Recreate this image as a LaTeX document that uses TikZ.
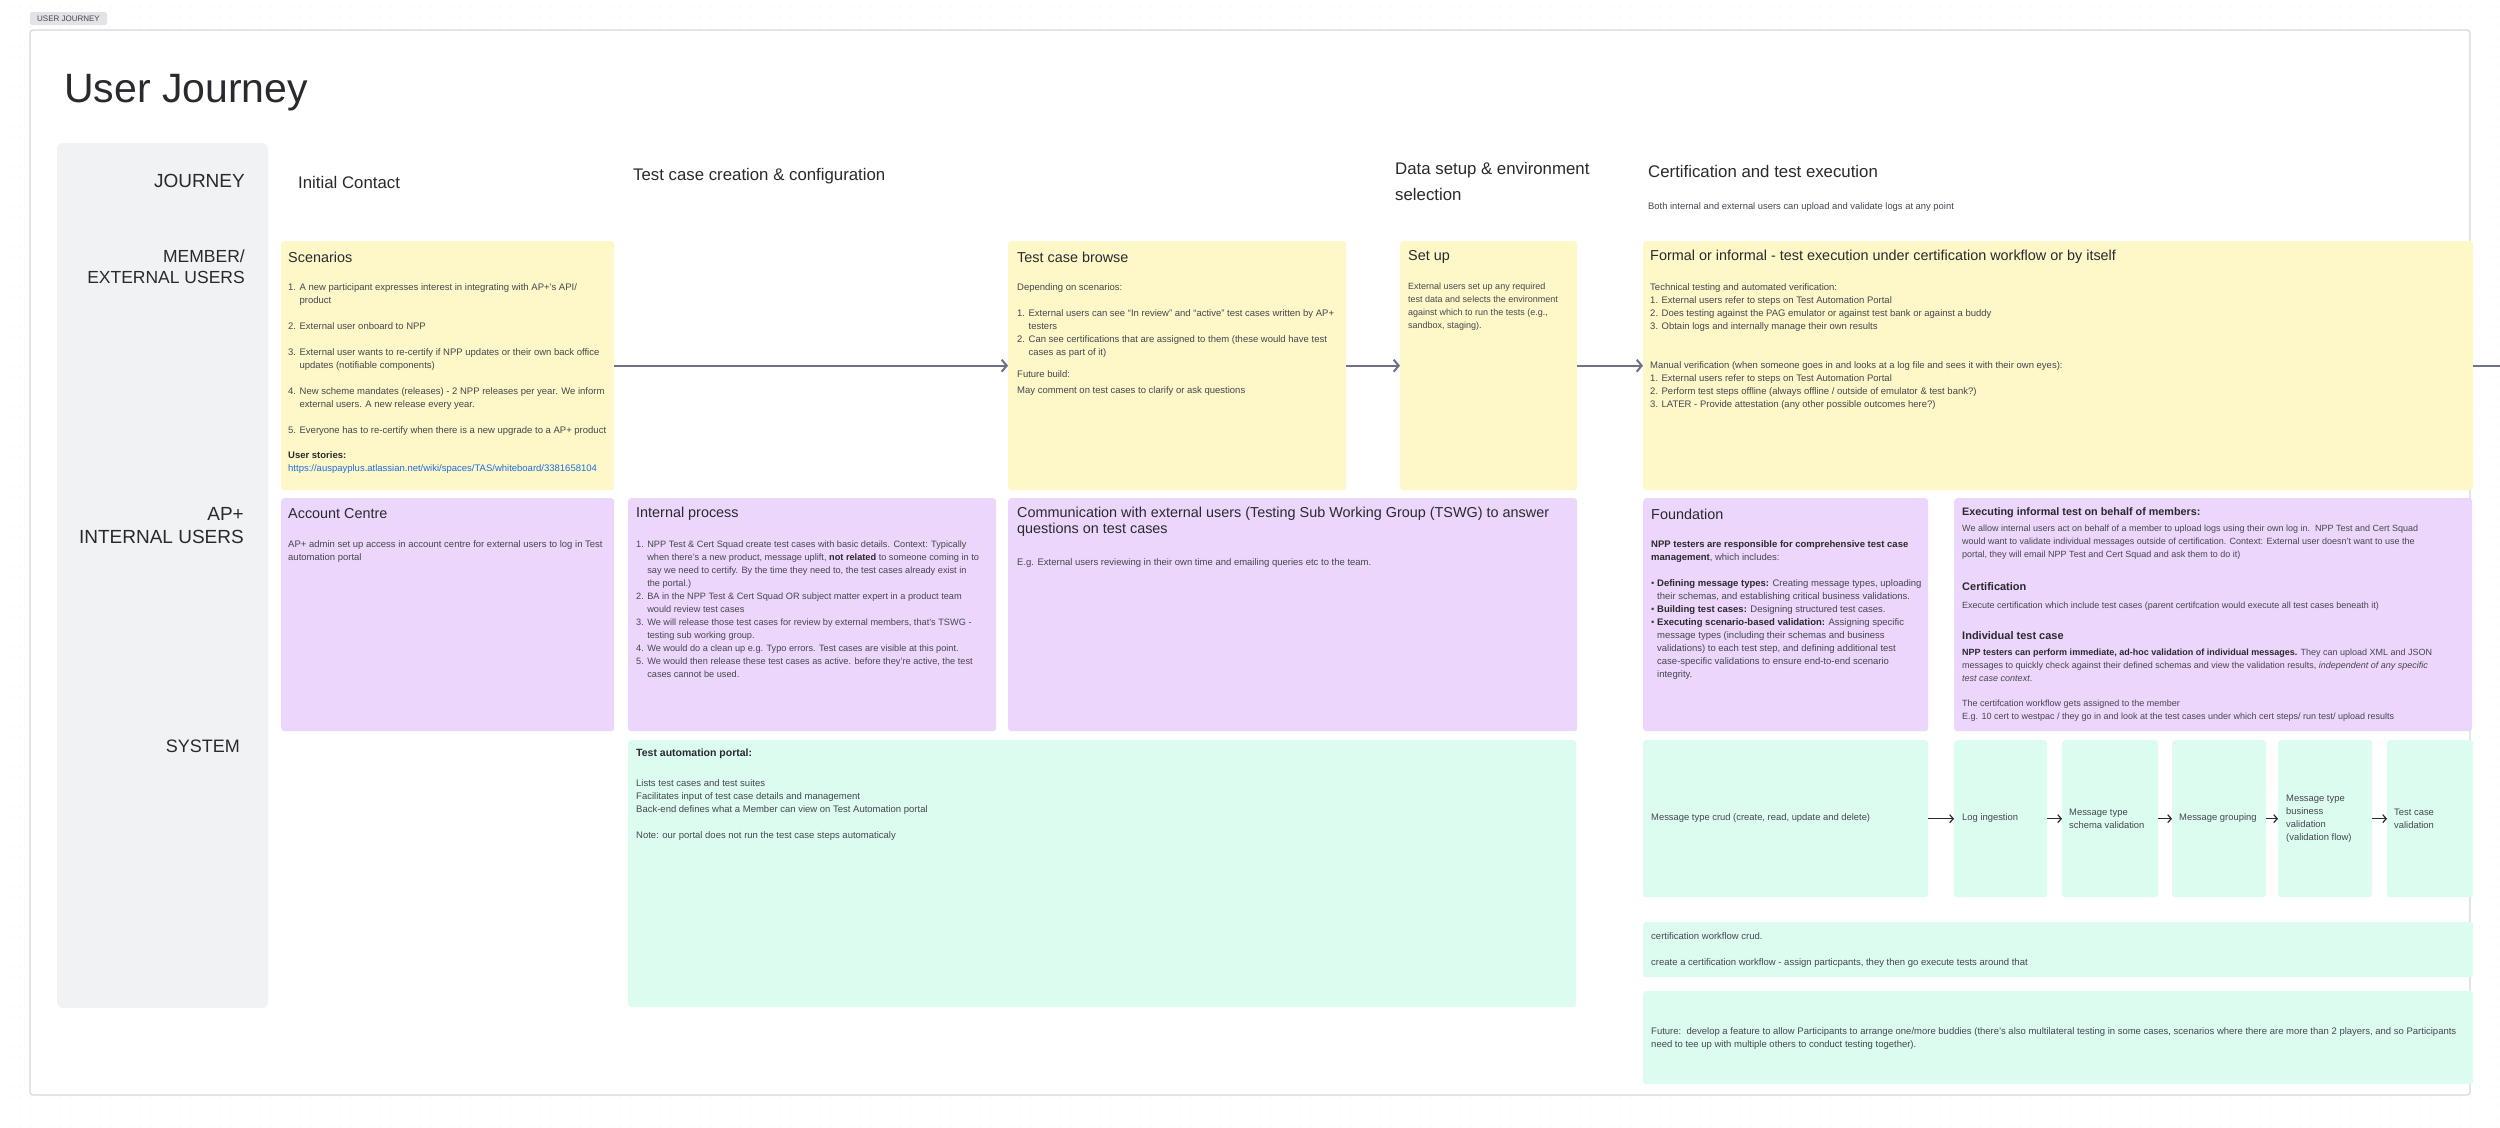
\documentclass[tikz,border=0pt]{standalone}
\usepackage{fontspec}
\setmainfont{Liberation Sans}
\usetikzlibrary{arrows.meta, patterns.meta}

\definecolor{cardyellow}{HTML}{FEF7C8}
\definecolor{cardpurple}{HTML}{EDD6FB}
\definecolor{cardgreen}{HTML}{DCFCEF}
\definecolor{panelgray}{HTML}{F1F2F4}
\definecolor{framegray}{HTML}{D6D7DB}
\definecolor{dotgray}{HTML}{E6E7EA}
\definecolor{taggray}{HTML}{E2E3E7}
\definecolor{inkdark}{HTML}{292A2E}
\definecolor{inkbody}{HTML}{45474F}
\definecolor{linkblue}{HTML}{1D6FE0}
\definecolor{arrowgray}{HTML}{6E7185}

\newcommand{\itemind}{\hphantom{1. }}

\tikzset{
  card/.style={anchor=north west, inner sep=0pt, rounded corners=3pt},
  ycard/.style={card, fill=cardyellow},
  pcard/.style={card, fill=cardpurple},
  gcard/.style={card, fill=cardgreen},
  cardtitle/.style={anchor=west, inner sep=0pt, align=left, text=inkdark, font=\fontsize{14.4}{16}\selectfont},
  body/.style={anchor=north west, inner sep=0pt, align=left, text=inkbody, font=\fontsize{9.5}{13}\selectfont, execute at begin node=\strut},
  smallbody/.style={body, font=\fontsize{9}{13}\selectfont},
  sysbody/.style={anchor=west, inner sep=0pt, align=left, text=inkbody, font=\fontsize{9.4}{13}\selectfont},
  subhead/.style={anchor=west, inner sep=0pt, text=inkdark, font=\fontsize{11}{13}\selectfont\bfseries},
  rowlabel/.style={anchor=east, inner sep=0pt, align=right, text=inkdark, font=\fontsize{18}{21}\selectfont},
  phase/.style={anchor=west, inner sep=0pt, align=left, text=inkdark, font=\fontsize{16.8}{26}\selectfont},
  flow/.style={draw=arrowgray, line width=2pt, -{Straight Barb[length=5pt,width=12pt]}},
  sysflow/.style={draw=inkdark, line width=1.2pt, -{Straight Barb[length=3.5pt,width=8pt]}}
}

\begin{document}
\begin{tikzpicture}[x=1pt, y=-1pt]
\useasboundingbox (0,0) rectangle (2500,1127);

% canvas, frame, tag and title
\fill[pattern={Dots[distance=10pt, radius=0.55pt]}, pattern color=dotgray] (0,0) rectangle (2500,1127);
\draw[framegray, line width=1.2pt, fill=white, rounded corners=3pt] (30,30) rectangle (2470,1095);
\node[fill=taggray, rounded corners=2pt, inner sep=0pt, minimum width=77, minimum height=13,
      text=inkbody, font=\fontsize{8}{8}\selectfont] (tag) at (68.5,18.5) {USER JOURNEY};
\node[anchor=base west, inner sep=0pt, text=inkdark, font=\fontsize{41}{41}\selectfont] (title) at (64,102) {User Journey};

% row labels
\fill[panelgray, rounded corners=6pt] (57,143) rectangle (268,1008);
\node[rowlabel, font=\fontsize{19}{21}\selectfont] (rjourney) at (245,181) {JOURNEY};
\node[rowlabel, font=\fontsize{17.5}{21}\selectfont] (rmember) at (245,267) {MEMBER/\\EXTERNAL USERS};
\node[rowlabel, font=\fontsize{19}{23}\selectfont] (rinternal) at (244,526) {AP+\\INTERNAL USERS};
\node[rowlabel] (rsystem) at (240,746) {SYSTEM};

% phases
\node[phase] (pcontact) at (298,182) {Initial Contact};
\node[phase] (pcreate) at (633,176) {Test case creation \& configuration};
\node[phase] (pdata) at (1395,181) {Data setup \& environment\\selection};
\node[phase] (pcert) at (1648,171) {Certification and test execution};
\node[sysbody] (pnote) at (1648,207) {Both internal and external users can upload and validate logs at any point};

% member / external users
\node[ycard, minimum width=333, minimum height=249] (scen) at (281,241) {};
\node[ycard, minimum width=338, minimum height=249] (browse) at (1008,241) {};
\node[ycard, minimum width=177, minimum height=249] (setup) at (1400,241) {};
\node[ycard, minimum width=830, minimum height=249] (formal) at (1643,241) {};

\node[cardtitle] (scenT) at (288,257) {Scenarios};
\node[body] (scenB) at (288,283) {1. A new participant expresses interest in integrating with AP+'s API/\\
\itemind product\\[13pt]
2. External user onboard to NPP\\[13pt]
3. External user wants to re-certify if NPP updates or their own back office\\
\itemind updates (notifiable components)\\[13pt]
4. New scheme mandates (releases) - 2 NPP releases per year. We inform\\
\itemind external users. A new release every year.\\[13pt]
5. Everyone has to re-certify when there is a new upgrade to a AP+ product\\[12pt]
\textcolor{inkdark}{\bfseries User stories:}\\
\textcolor{linkblue}{https://auspayplus.atlassian.net/wiki/spaces/TAS/whiteboard/3381658104}};

\node[cardtitle] (browseT) at (1017,257) {Test case browse};
\node[body] (browseB) at (1017,283) {Depending on scenarios:\\[13pt]
1. External users can see ``In review'' and ``active'' test cases written by AP+\\
\itemind testers\\
2. Can see certifications that are assigned to them (these would have test\\
\itemind cases as part of it)\\[9pt]
Future build:\\[3pt]
May comment on test cases to clarify or ask questions};

\node[cardtitle] (setupT) at (1408,257) {Set up};
\node[smallbody] (setupB) at (1408,283) {External users set up any required\\
test data and selects the environment\\
against which to run the tests (e.g.,\\
sandbox, staging).};

\node[cardtitle] (formalT) at (1650,257) {Formal or informal - test execution under certification workflow or by itself};
\node[body] (formalB) at (1650,283) {Technical testing and automated verification:\\
1. External users refer to steps on Test Automation Portal\\
2. Does testing against the PAG emulator or against test bank or against a buddy\\
3. Obtain logs and internally manage their own results\\[26pt]
Manual verification (when someone goes in and looks at a log file and sees it with their own eyes):\\
1. External users refer to steps on Test Automation Portal\\
2. Perform test steps offline (always offline / outside of emulator \& test bank?)\\
3. LATER - Provide attestation (any other possible outcomes here?)};

% AP+ internal users
\node[pcard, minimum width=333, minimum height=233] (account) at (281,498) {};
\node[pcard, minimum width=368, minimum height=233] (internal) at (628,498) {};
\node[pcard, minimum width=569, minimum height=233] (comm) at (1008,498) {};
\node[pcard, minimum width=285, minimum height=233] (found) at (1643,498) {};
\node[pcard, minimum width=518, minimum height=233] (informal) at (1954,498) {};

\node[cardtitle] (accountT) at (288,514) {Account Centre};
\node[body] (accountB) at (288,540.5) {AP+ admin set up access in account centre for external users to log in Test\\
automation portal};

\node[cardtitle] (internalT) at (636,514) {Internal process};
\node[body, font=\fontsize{9.2}{13}\selectfont] (internalB) at (636,540.5) {1. NPP Test \& Cert Squad create test cases with basic details. Context: Typically\\
\itemind when there's a new product, message uplift, \textcolor{inkdark}{\bfseries not related} to someone coming in to\\
\itemind say we need to certify. By the time they need to, the test cases already exist in\\
\itemind the portal.)\\
2. BA in the NPP Test \& Cert Squad OR subject matter expert in a product team\\
\itemind would review test cases\\
3. We will release those test cases for review by external members, that's TSWG -\\
\itemind testing sub working group.\\
4. We would do a clean up e.g. Typo errors. Test cases are visible at this point.\\
5. We would then release these test cases as active. before they're active, the test\\
\itemind cases cannot be used.};

\node[cardtitle] (commT) at (1017,522) {Communication with external users (Testing Sub Working Group (TSWG) to answer\\questions on test cases};
\node[body] (commB) at (1017,556.5) {E.g. External users reviewing in their own time and emailing queries etc to the team.};

\node[cardtitle] (foundT) at (1651,514) {Foundation};
\node[body] (foundB) at (1651,540.5) {\textcolor{inkdark}{\bfseries NPP testers are responsible for comprehensive test case}\\
\textcolor{inkdark}{\bfseries management}, which includes:\\[13pt]
\textbullet\ \textcolor{inkdark}{\bfseries Defining message types:} Creating message types, uploading\\
\hphantom{\textbullet\ }their schemas, and establishing critical business validations.\\
\textbullet\ \textcolor{inkdark}{\bfseries Building test cases:} Designing structured test cases.\\
\textbullet\ \textcolor{inkdark}{\bfseries Executing scenario-based validation:} Assigning specific\\
\hphantom{\textbullet\ }message types (including their schemas and business\\
\hphantom{\textbullet\ }validations) to each test step, and defining additional test\\
\hphantom{\textbullet\ }case-specific validations to ensure end-to-end scenario\\
\hphantom{\textbullet\ }integrity.};

\node[subhead, font=\fontsize{10.8}{13}\selectfont\bfseries] (informalT) at (1962,513) {Executing informal test on behalf of members:};
\node[smallbody] (informalB) at (1962,524.5) {We allow internal users act on behalf of a member to upload logs using their own log in.\ \ NPP Test and Cert Squad\\
would want to validate individual messages outside of certification. Context: External user doesn't want to use the\\
portal, they will email NPP Test and Cert Squad and ask them to do it)};
\node[subhead] (certT) at (1962,587) {Certification};
\node[smallbody] (certB) at (1962,599.5) {Execute certification which include test cases (parent certifcation would execute all test cases beneath it)};
\node[subhead] (singleT) at (1962,636) {Individual test case};
\node[smallbody] (singleB) at (1962,648.5) {\textcolor{inkdark}{\bfseries NPP testers can perform immediate, ad-hoc validation of individual messages.} They can upload XML and JSON\\
messages to quickly check against their defined schemas and view the validation results, \textit{independent of any specific}\\
\textit{test case context}.\\[12pt]
The certifcation workflow gets assigned to the member\\
E.g. 10 cert to westpac / they go in and look at the test cases under which cert steps/ run test/ upload results};

% system
\node[gcard, minimum width=948, minimum height=267] (portal) at (628,740) {};
\node[gcard, minimum width=285, minimum height=157] (crud) at (1643,740) {};
\node[gcard, minimum width=93, minimum height=157] (logi) at (1954,740) {};
\node[gcard, minimum width=96, minimum height=157] (schema) at (2062,740) {};
\node[gcard, minimum width=94, minimum height=157] (group) at (2172,740) {};
\node[gcard, minimum width=94, minimum height=157] (busval) at (2278,740) {};
\node[gcard, minimum width=86, minimum height=157] (tcval) at (2387,740) {};
\node[gcard, minimum width=830, minimum height=55] (certwf) at (1643,922) {};
\node[gcard, minimum width=830, minimum height=93] (future) at (1643,991) {};

\node[subhead, font=\fontsize{10.5}{13}\selectfont\bfseries] (portalT) at (636,754) {Test automation portal:};
\node[body] (portalB) at (636,779.5) {Lists test cases and test suites\\
Facilitates input of test case details and management\\
Back-end defines what a Member can view on Test Automation portal\\[13pt]
Note: our portal does not run the test case steps automaticaly};

\node[sysbody] (crudT) at (1651,818) {Message type crud (create, read, update and delete)};
\node[sysbody] (logiT) at (1962,818) {Log ingestion};
\node[sysbody] (schemaT) at (2069,818.5) {Message type\\schema validation};
\node[sysbody] (groupT) at (2179,818) {Message grouping};
\node[sysbody] (busvalT) at (2286,818.5) {Message type\\business\\validation\\(validation flow)};
\node[sysbody] (tcvalT) at (2394,818.5) {Test case\\validation};

\node[body] (certwfB) at (1651,932.5) {certification workflow crud.\\[13pt]
create a certification workflow - assign particpants, they then go execute tests around that};
\node[body] (futureB) at (1651,1027.5) {Future:\ \ develop a feature to allow Participants to arrange one/more buddies (there's also multilateral testing in some cases, scenarios where there are more than 2 players, and so Participants\\
need to tee up with multiple others to conduct testing together).};

% connectors
\coordinate (offright) at (2500,367);
\draw[flow] (scen.east) -- (browse.west);
\draw[flow] (browse.east) -- (setup.west);
\draw[flow] (setup.east) -- (formal.west);
\draw[arrowgray, line width=2pt] (formal.east) -- (formal.east -| offright);
\draw[sysflow] (crud.east) -- (logi.west);
\draw[sysflow] (logi.east) -- (schema.west);
\draw[sysflow] (schema.east) -- (group.west);
\draw[sysflow] (group.east) -- (busval.west);
\draw[sysflow] (busval.east) -- (tcval.west);
\end{tikzpicture}
\end{document}
